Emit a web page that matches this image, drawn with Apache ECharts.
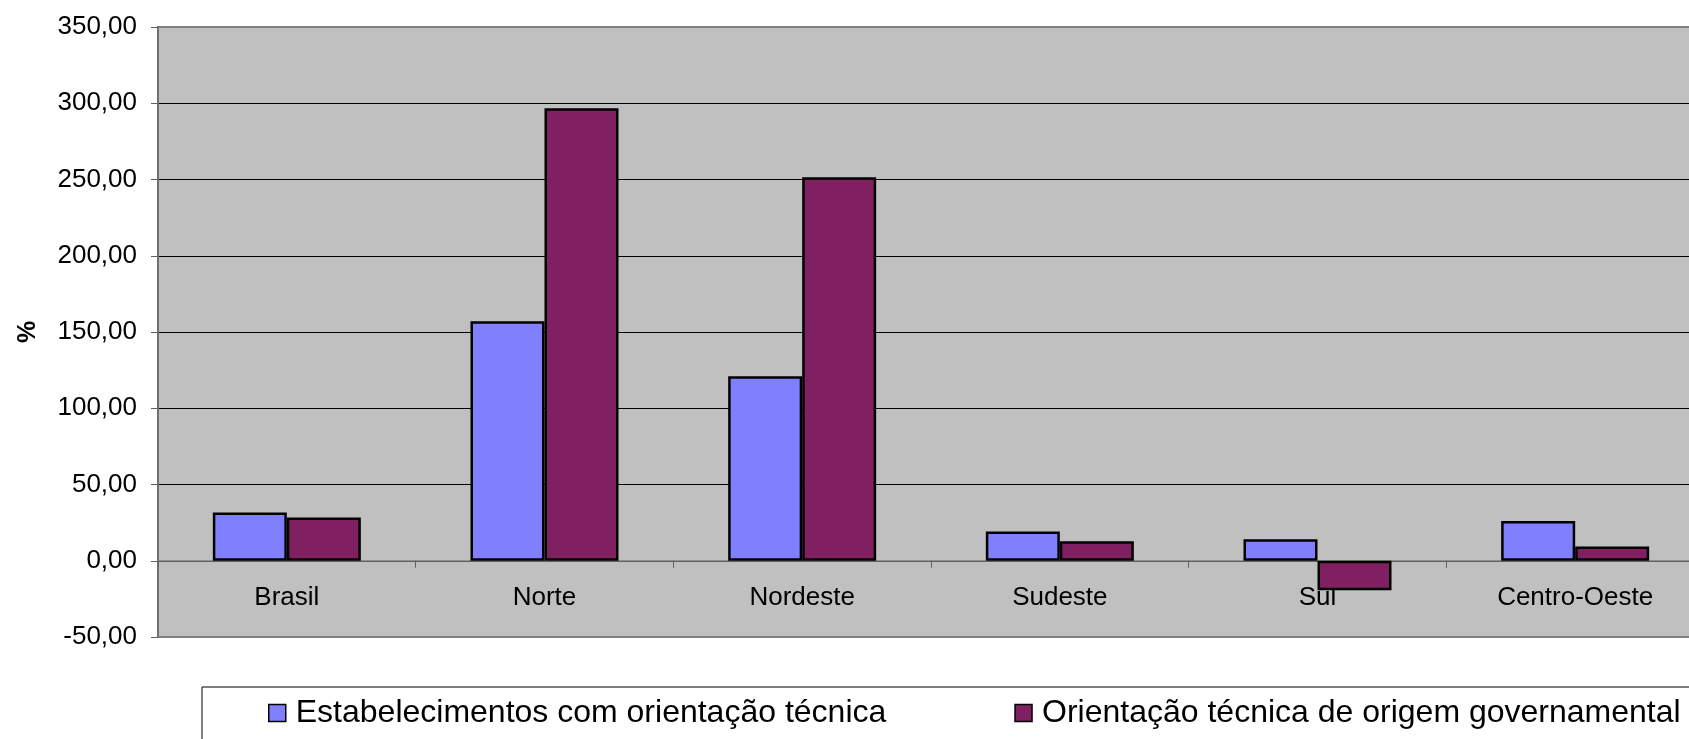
<!DOCTYPE html>
<html>
<head>
<meta charset="utf-8">
<script src="https://cdn.jsdelivr.net/npm/echarts@6/dist/echarts.min.js"></script>
<style>
  html, body { margin: 0; padding: 0; background: #fff; }
  #chart { width: 1689px; height: 739px; }
</style>
</head>
<body>
<div id="chart"></div>
<script>
// dados
const regioes = ['Brasil', 'Norte', 'Nordeste', 'Sudeste', 'Sul', 'Centro-Oeste']
const comOrientacao = [31.6, 157.0, 121.0, 19.2, 14.1, 26.0]
const origemGovernamental = [28.3, 296.7, 251.5, 12.8, -19.4, 9.3]
const nomesSeries = ['Estabelecimentos com orientação técnica', 'Orientação técnica de origem governamental']

const fonte = '"Liberation Sans", Arial, sans-serif'

const chart = echarts.init(document.getElementById('chart'))

// área do gráfico (o lado direito sai da imagem, como no original)
const gridTop = 27
const gridLeft = 158
const gridHeight = 610
const yMin = -50
const yMax = 350
// distância do eixo 0 até a base da área
const offsetZero = -gridHeight * (0 - yMin) / (yMax - yMin)

const option = {
  backgroundColor: '#ffffff',
  animation: false,
  grid: {
    left: gridLeft,
    top: gridTop,
    width: 1546,
    height: gridHeight,
    outerBoundsMode: 'none',
    containLabel: false,
    show: true,
    backgroundColor: '#c0c0c0',
    borderColor: '#808080',
    borderWidth: 2
  },
  legend: {
    data: nomesSeries,
    icon: 'rect',
    left: 202,
    top: 687,
    width: 3000,
    padding: [10, 300, 60, 66],
    itemGap: 128,
    itemWidth: 17,
    itemHeight: 17,
    backgroundColor: '#ffffff',
    borderColor: '#000000',
    borderWidth: 1,
    itemStyle: {
      borderColor: '#000000',
      borderWidth: 1.5
    },
    textStyle: {
      fontFamily: fonte,
      fontSize: 32,
      color: '#000',
      padding: [0, 0, 0, 5]
    }
  },
  xAxis: {
    type: 'category',
    data: regioes,
    offset: offsetZero,
    axisLine: {
      onZero: false,
      lineStyle: { color: '#808080', width: 1.5 }
    },
    axisTick: {
      show: true,
      length: 7,
      lineStyle: { color: '#606060', width: 1 }
    },
    axisLabel: {
      margin: 24,
      fontFamily: fonte,
      fontSize: 26,
      color: '#000'
    },
    splitLine: { show: false }
  },
  yAxis: {
    type: 'value',
    min: yMin,
    max: yMax,
    interval: 50,
    name: '%',
    nameLocation: 'middle',
    nameRotate: 90,
    nameGap: 117,
    nameTextStyle: {
      fontFamily: fonte,
      fontSize: 25,
      fontWeight: 'bold',
      color: '#000'
    },
    axisLine: {
      show: true,
      lineStyle: { color: '#707070', width: 2 }
    },
    axisTick: {
      show: true,
      length: 7,
      lineStyle: { color: '#606060', width: 1 }
    },
    axisLabel: {
      margin: 21,
      fontFamily: fonte,
      fontSize: 26,
      color: '#000',
      formatter: (v) => v.toFixed(2).replace('.', ',')
    },
    splitLine: {
      show: true,
      showMinLine: false,
      showMaxLine: false,
      lineStyle: { color: '#000000', width: 1 }
    }
  },
  series: [
    {
      name: nomesSeries[0],
      type: 'bar',
      data: comOrientacao,
      barWidth: 74,
      barGap: '0%',
      itemStyle: {
        color: '#8080ff',
        borderColor: '#000000',
        borderWidth: 2.5
      }
    },
    {
      name: nomesSeries[1],
      type: 'bar',
      data: origemGovernamental,
      barWidth: 74,
      barGap: '0%',
      itemStyle: {
        color: '#802060',
        borderColor: '#000000',
        borderWidth: 2.5
      }
    }
  ]
}

chart.setOption(option)
</script>
</body>
</html>
